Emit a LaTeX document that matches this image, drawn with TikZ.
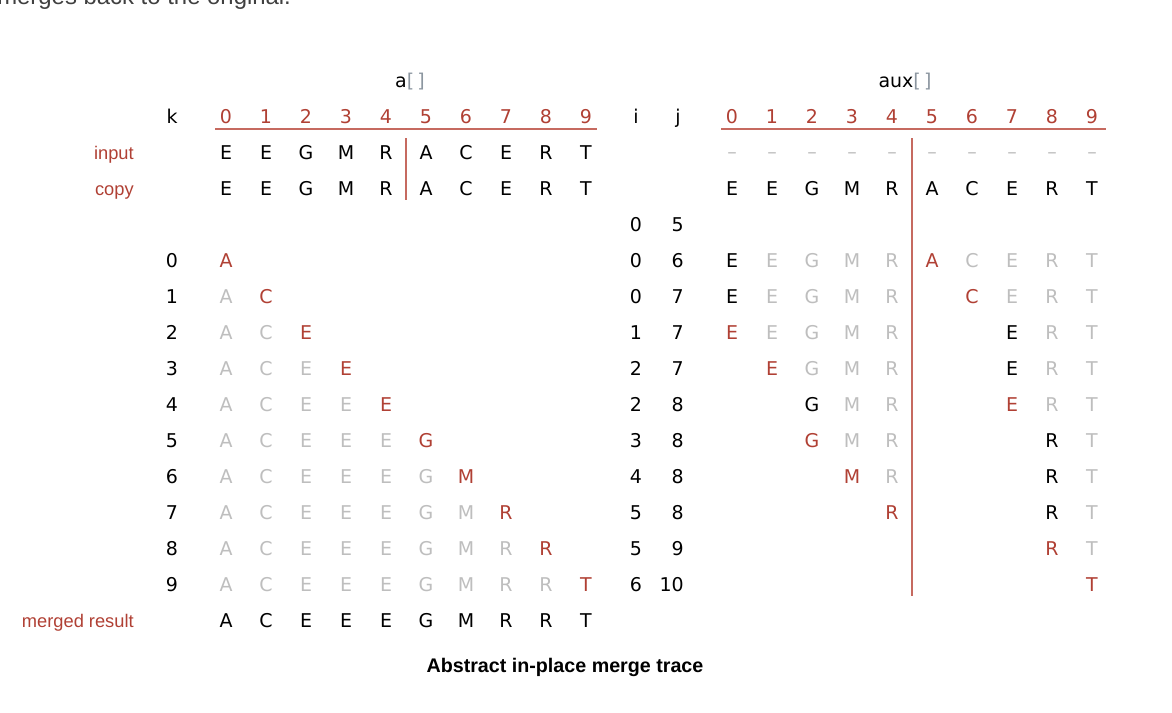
\documentclass[tikz,border=0pt]{standalone}
\usepackage{fontspec}
\setmainfont{Liberation Sans}
\newfontfamily\tracefont{DejaVu Sans}
\usetikzlibrary{positioning}

\definecolor{tracered}{RGB}{176,64,52}
\definecolor{traceline}{RGB}{198,106,96}
\definecolor{tracegray}{RGB}{190,190,190}
\definecolor{bracegray}{RGB}{140,150,160}

\begin{document}
\begin{tikzpicture}[x=0.025cm, y=-0.025cm,
    every node/.style={inner sep=0pt, anchor=base},
    entry/.style={font=\tracefont\fontsize{13.5}{16}\selectfont},
    idxnum/.style={entry, text=tracered},
    rowlabel/.style={anchor=base east, text=tracered, font=\fontsize{13}{15}\selectfont},
    divider/.style={draw=traceline, line width=1.4pt}]
  \useasboundingbox (0,0) rectangle (1172,712);

  % text line cut off at the top
  \node[anchor=base west, text=black!75, font=\fontsize{17}{20}\selectfont] (above) at (-3,4.5) {merges back to the original.};

  % headers
  \node[entry] (alabel) at (410,87) {a\textcolor{bracegray}{[\,]}};
  \node[entry] (auxlabel) at (905,87) {aux\textcolor{bracegray}{[\,]}};
  \node[entry] (k) at (172,123.5) {k};
  \node[entry] (i) at (636,123.5) {i};
  \node[entry] (j) at (678,123.5) {j};
  \foreach \c in {0,...,9} {
    \node[idxnum] (a\c) at ({226+40*\c},123.5) {\c};
    \node[idxnum] (x\c) at ({732+40*\c},123.5) {\c};
  }
  \coordinate (aleft) at (215,129);
  \coordinate (aright) at (597,129);
  \coordinate (xleft) at (721,129);
  \coordinate (xright) at (1106,129);
  \coordinate (atop) at (406,138);
  \coordinate (abot) at (406,200);
  \coordinate (xtop) at (912,138);
  \coordinate (xbot) at (912,596);
  \draw[divider] (aleft) -- (aright) (xleft) -- (xright)
                 (atop) -- (abot) (xtop) -- (xbot);

  % input and copy
  \node[rowlabel] (input) at (134,159) {input};
  \node[rowlabel] (copy) at (134,195) {copy};
  \foreach \ch [count=\c from 0] in {E,E,G,M,R,A,C,E,R,T} {
    \node[entry] (in\c) at ({226+40*\c},159.5) {\ch};
    \node[entry] (cp\c) at ({226+40*\c},195.5) {\ch};
    \node[entry] (xc\c) at ({732+40*\c},195.5) {\ch};
    \node[entry, text=tracegray] (xd\c) at ({732+40*\c},158) {–};
  }

  % merge into a[]
  \foreach \k in {0,...,9} {
    \node[entry] (k\k) at (172,{267.5+36*\k}) {\k};
    \foreach \ch [count=\c from 0] in {A,C,E,E,E,G,M,R,R,T} {
      \ifnum\c<\k \node[entry, text=tracegray] (a\k-\c) at ({226+40*\c},{267.5+36*\k}) {\ch};\fi
      \ifnum\c=\k \node[entry, text=tracered] (a\k-\c) at ({226+40*\c},{267.5+36*\k}) {\ch};\fi
    }
  }
  \node[rowlabel] (merged) at (134,627) {merged result};
  \foreach \ch [count=\c from 0] in {A,C,E,E,E,G,M,R,R,T}
    \node[entry] (res\c) at ({226+40*\c},627.5) {\ch};

  % i, j and aux[]
  \node[entry] (i3) at (636,231.5) {0};
  \node[entry, anchor=base east] (j3) at (684,231.5) {5};
  \foreach \r/\vi/\vj/\cells in {
      4/0/6/{0/E/black,1/E/tracegray,2/G/tracegray,3/M/tracegray,4/R/tracegray,5/A/tracered,6/C/tracegray,7/E/tracegray,8/R/tracegray,9/T/tracegray},
      5/0/7/{0/E/black,1/E/tracegray,2/G/tracegray,3/M/tracegray,4/R/tracegray,6/C/tracered,7/E/tracegray,8/R/tracegray,9/T/tracegray},
      6/1/7/{0/E/tracered,1/E/tracegray,2/G/tracegray,3/M/tracegray,4/R/tracegray,7/E/black,8/R/tracegray,9/T/tracegray},
      7/2/7/{1/E/tracered,2/G/tracegray,3/M/tracegray,4/R/tracegray,7/E/black,8/R/tracegray,9/T/tracegray},
      8/2/8/{2/G/black,3/M/tracegray,4/R/tracegray,7/E/tracered,8/R/tracegray,9/T/tracegray},
      9/3/8/{2/G/tracered,3/M/tracegray,4/R/tracegray,8/R/black,9/T/tracegray},
      10/4/8/{3/M/tracered,4/R/tracegray,8/R/black,9/T/tracegray},
      11/5/8/{4/R/tracered,8/R/black,9/T/tracegray},
      12/5/9/{8/R/tracered,9/T/tracegray},
      13/6/10/{9/T/tracered}} {
    \node[entry] (i\r) at (636,{123.5+36*\r}) {\vi};
    \node[entry, anchor=base east] (j\r) at (684,{123.5+36*\r}) {\vj};
    \foreach \c/\ch/\col in \cells
      \node[entry, text=\col] (x\r-\c) at ({732+40*\c},{123.5+36*\r}) {\ch};
  }

  \node[font=\bfseries\fontsize{14}{16}\selectfont] (caption) at (565,672) {Abstract in-place merge trace};
\end{tikzpicture}
\end{document}
